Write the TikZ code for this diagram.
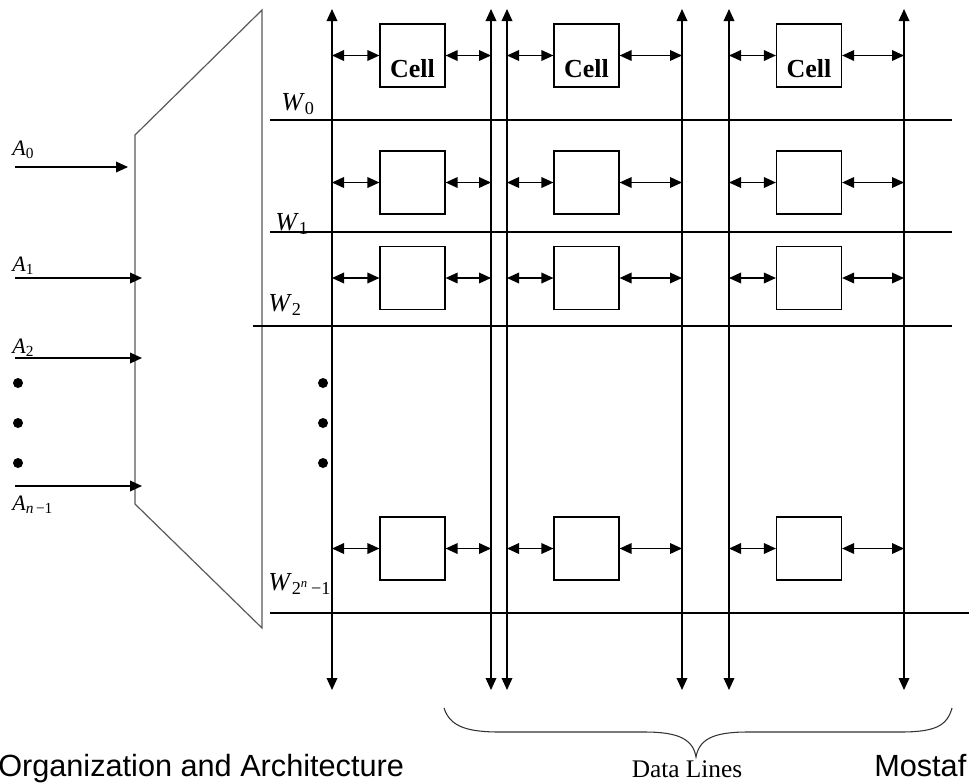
\documentclass[tikz,border=0pt]{standalone}
\usepackage{fontspec}
\setmainfont{Liberation Serif}
\setsansfont{Liberation Sans}
\usetikzlibrary{arrows.meta}
\usetikzlibrary{positioning}
\definecolor{decgray}{rgb}{0.35, 0.35, 0.35}
\newcommand{\sublab}[2]{\textit{#1}\textsubscript{#2}}
\tikzset{
  cellbox/.style={rectangle, draw, line width=0.9pt, minimum width=48.75pt, minimum height=47.25pt, inner sep=0pt},
  celltxt/.style={font=\fontsize{19.5}{20}\selectfont\bfseries, text height=33.7pt, text depth=0pt},
  % bit lines and links carry arrows at both ends
  bitline/.style = {{Triangle[length=9pt, width=8pt]}-{Triangle[length=9pt, width=8pt]}, line width=1pt},
  link/.style = {{Triangle[length=9pt, width=8pt]}-{Triangle[length=9pt, width=8pt]}, line width=1pt},
  inarrow/.style = {-{Triangle[length=9pt, width=8pt]}, line width=1pt},
  wordline/.style = {line width=1pt},
  decoder/.style = {decgray, line width=0.9pt},
  dot/.style = {circle, fill=black, minimum size=7.5pt, inner sep=0pt},
  alab/.style = {anchor=base west, inner sep=0pt, font=\fontsize{16.5}{17}\selectfont},
  wlab/.style = {anchor=base west, inner sep=0pt, font=\fontsize{19.5}{20}\selectfont},
}

\begin{document}
\begin{tikzpicture}[x=0.75pt, y=-0.75pt]
	\useasboundingbox (0,0) rectangle (969,783);

	% decoder
	\coordinate (dtr) at (262,10);
	\coordinate (dtl) at (135,135);
	\coordinate (dbl) at (135,504);
	\coordinate (dbr) at (262,628);
	\draw[decoder] (dtr) -- (dtl) -- (dbl) -- (dbr) -- cycle;

	% address inputs
	\coordinate (a0s) at (15,167);
	\coordinate (a0e) at (128,167);
	\coordinate (a1s) at (15,278);
	\coordinate (a1e) at (142,278);
	\coordinate (a2s) at (15,358);
	\coordinate (a2e) at (142,358);
	\coordinate (a3s) at (15,486);
	\coordinate (a3e) at (142,486);
	\draw[inarrow] (a0s) -- (a0e);
	\draw[inarrow] (a1s) -- (a1e);
	\draw[inarrow] (a2s) -- (a2e);
	\draw[inarrow] (a3s) -- (a3e);

	\node[alab] (A0) at (12,155) {\sublab{A}{0}};
	\node[alab] (A1) at (12,271) {\sublab{A}{1}};
	\node[alab] (A2) at (12,353) {\sublab{A}{2}};
	\node[alab] (A3) at (12,510) {\sublab{A}{\textit{n}\,−1}};

	\node[dot] (ld1) at (18,383) {};
	\node[dot] (ld2) at (18,423) {};
	\node[dot] (ld3) at (18,463) {};
	\node[dot] (rd1) at (323,383) {};
	\node[dot] (rd2) at (323,423) {};
	\node[dot] (rd3) at (323,463) {};

	% word lines
	\coordinate (w0l) at (270,120);
	\coordinate (w0r) at (952,120);
	\coordinate (w1l) at (270,232);
	\coordinate (w1r) at (952,232);
	\coordinate (w2l) at (253,326);
	\coordinate (w2r) at (952,326);
	\coordinate (w3l) at (270,613);
	\coordinate (w3r) at (969,613);
	\draw[wordline] (w0l) -- (w0r);
	\draw[wordline] (w1l) -- (w1r);
	\draw[wordline] (w2l) -- (w2r);
	\draw[wordline] (w3l) -- (w3r);

	\node[wlab] (W0) at (281,110) {\sublab{W}{0}};
	\node[wlab] (W1) at (275,230) {\sublab{W}{1}};
	\node[wlab] (W2) at (268,311) {\sublab{W}{2}};
	\node[wlab] (W3) at (268,590) {\sublab{W}{2\textsuperscript{\textit{n}}\,−1}};

	% bit lines
	\coordinate (b1t) at (332,9);   \coordinate (b1b) at (332,690);
	\coordinate (b2t) at (491,9);   \coordinate (b2b) at (491,690);
	\coordinate (b3t) at (507,9);   \coordinate (b3b) at (507,690);
	\coordinate (b4t) at (682,9);   \coordinate (b4b) at (682,690);
	\coordinate (b5t) at (729,9);   \coordinate (b5b) at (729,690);
	\coordinate (b6t) at (904,9);   \coordinate (b6b) at (904,690);
	\draw[bitline] (b1t) -- (b1b);
	\draw[bitline] (b2t) -- (b2b);
	\draw[bitline] (b3t) -- (b3b);
	\draw[bitline] (b4t) -- (b4b);
	\draw[bitline] (b5t) -- (b5b);
	\draw[bitline] (b6t) -- (b6b);

	% cells
	\node[cellbox, celltxt] (c01) at (412.5,55.5) {Cell};
	\node[cellbox, celltxt] (c02) at (586.5,55.5) {Cell};
	\node[cellbox, celltxt] (c03) at (809,55.5) {Cell};
	\node[cellbox] (c11) at (412.5,182.5) {};
	\node[cellbox] (c12) at (586.5,182.5) {};
	\node[cellbox] (c13) at (809,182.5) {};
	\node[cellbox] (c21) at (412.5,278) {};
	\node[cellbox] (c22) at (586.5,278) {};
	\node[cellbox] (c23) at (809,278) {};
	\node[cellbox] (c31) at (412.5,548.5) {};
	\node[cellbox] (c32) at (586.5,548.5) {};
	\node[cellbox] (c33) at (809,548.5) {};

	\draw[link] (b1t |- c01) -- (c01.west);
	\draw[link] (c01.east) -- (b2t |- c01);
	\draw[link] (b3t |- c02) -- (c02.west);
	\draw[link] (c02.east) -- (b4t |- c02);
	\draw[link] (b5t |- c03) -- (c03.west);
	\draw[link] (c03.east) -- (b6t |- c03);

	\draw[link] (b1t |- c11) -- (c11.west);
	\draw[link] (c11.east) -- (b2t |- c11);
	\draw[link] (b3t |- c12) -- (c12.west);
	\draw[link] (c12.east) -- (b4t |- c12);
	\draw[link] (b5t |- c13) -- (c13.west);
	\draw[link] (c13.east) -- (b6t |- c13);

	\draw[link] (b1t |- c21) -- (c21.west);
	\draw[link] (c21.east) -- (b2t |- c21);
	\draw[link] (b3t |- c22) -- (c22.west);
	\draw[link] (c22.east) -- (b4t |- c22);
	\draw[link] (b5t |- c23) -- (c23.west);
	\draw[link] (c23.east) -- (b6t |- c23);

	\draw[link] (b1t |- c31) -- (c31.west);
	\draw[link] (c31.east) -- (b2t |- c31);
	\draw[link] (b3t |- c32) -- (c32.west);
	\draw[link] (c32.east) -- (b4t |- c32);
	\draw[link] (b5t |- c33) -- (c33.west);
	\draw[link] (c33.east) -- (b6t |- c33);

	% brace over the data lines
	\coordinate (brl) at (444,708);
	\coordinate (brr) at (952,708);
	\coordinate (brt) at (696,757);
	\draw[line width=0.8pt, black!80] (brl) .. controls (450,727) and (468,732) .. (500,732)
		-- (645,732) .. controls (680,732) and (693,740) .. (brt)
		.. controls (699,740) and (712,732) .. (747,732)
		-- (900,732) .. controls (935,732) and (947,726) .. (brr);
	\node[anchor=base, inner sep=0pt, font=\fontsize{19}{20}\selectfont] (dl) at (687,777) {Data Lines};

	\node[anchor=base west, inner sep=0pt, font=\sffamily\fontsize{23}{24}\selectfont] (foot1) at (-2,776) {Organization and Architecture};
	\node[anchor=base west, inner sep=0pt, font=\sffamily\fontsize{23}{24}\selectfont] (foot2) at (874,776) {Mostaf};

\end{tikzpicture}
\end{document}
